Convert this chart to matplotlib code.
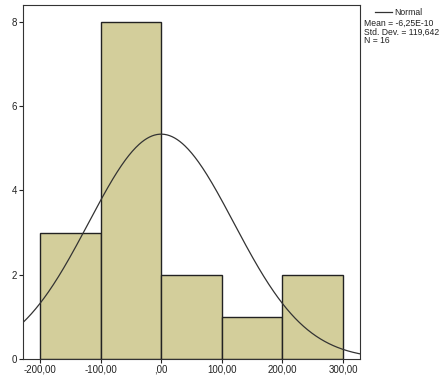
import numpy as np
import matplotlib
matplotlib.use("Agg")
import matplotlib.pyplot as plt

plt.rcParams["font.family"] = ["Liberation Sans", "DejaVu Sans"]

bin_edges = [-200, -100, 0, 100, 200, 300]
counts = [3, 8, 2, 1, 2]
mean = -6.25e-10
std = 119.642
n = 16
xticks = [-200, -100, 0, 100, 200, 300]
xticklabels = ["-200,00", "-100,00", ",00", "100,00", "200,00", "300,00"]
yticks = [0, 2, 4, 6, 8]

fig = plt.figure(figsize=(4.42, 3.78), dpi=100)
ax = fig.add_axes([0.052, 0.050, 0.7625, 0.937])
widths = np.diff(bin_edges)
ax.bar(bin_edges[:-1], counts, width=widths, align="edge", color="#d3ce9b",
       edgecolor="#222222", linewidth=1.0)
xs = np.linspace(-228, 330, 400)
bw = 100
ys = n * bw * np.exp(-0.5 * ((xs - mean) / std) ** 2) / (std * np.sqrt(2 * np.pi))
ax.plot(xs, ys, color="#333333", linewidth=0.9)
ax.set_xlim(-228, 328)
ax.set_ylim(0, 8.4)
ax.set_xticks(xticks)
ax.set_xticklabels(xticklabels)
ax.set_yticks(yticks)
ax.tick_params(labelsize=7, length=3, width=0.8, color="#222222", pad=1, labelcolor="#222222")
for s in ax.spines.values():
    s.set_linewidth(0.8)
    s.set_color("#333333")

fig.lines.append(plt.Line2D([0.848, 0.888], [0.967, 0.967], color="#333333",
                            linewidth=0.9, transform=fig.transFigure))
fig.text(0.893, 0.967, "Normal", fontsize=6.2, va="center", color="#222222")
fig.text(0.823, 0.950, "Mean = -6,25E-10\nStd. Dev. = 119,642\nN = 16",
         fontsize=6.2, va="top", ha="left", linespacing=0.95, color="#222222")
fig.savefig("out.png", dpi=100)
